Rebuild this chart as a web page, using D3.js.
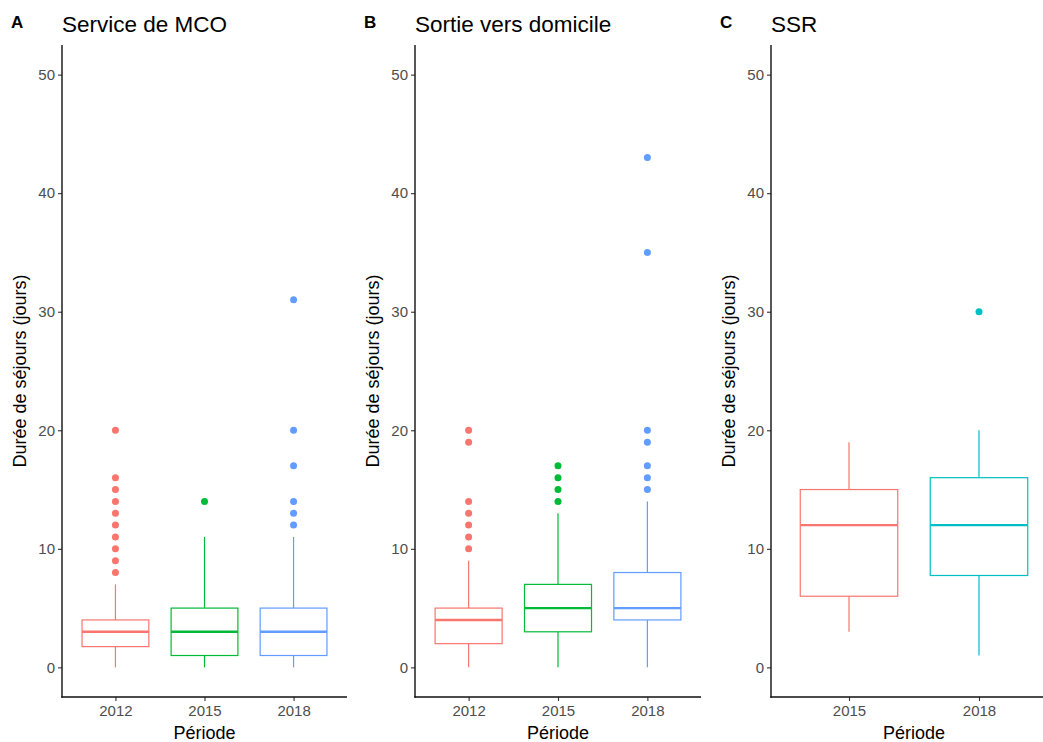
<!DOCTYPE html>
<html>
<head>
<meta charset="utf-8">
<script src="https://cdn.jsdelivr.net/npm/d3@7"></script>
<style>
  body { margin: 0; background: #fff; }
  svg { display: block; font-family: "Liberation Sans", Arial, sans-serif; }
</style>
</head>
<body>
<svg id="chart" width="1043" height="742"></svg>
<script>
// tick values on the y axis
const yTicks = [0, 10, 20, 30, 40, 50];

// panel A : Service de MCO
const mcoYears = ["2012", "2015", "2018"];
const mcoBoxes = [
  { min: 0, q1: 1.75, med: 3, q3: 4, max: 7, out: [8, 9, 10, 11, 12, 13, 14, 15, 16, 20] },
  { min: 0, q1: 1, med: 3, q3: 5, max: 11, out: [14] },
  { min: 0, q1: 1, med: 3, q3: 5, max: 11, out: [12, 13, 14, 17, 20, 31] }
];

// panel B : Sortie vers domicile
const domYears = ["2012", "2015", "2018"];
const domBoxes = [
  { min: 0, q1: 2, med: 4, q3: 5, max: 9, out: [10, 11, 12, 13, 14, 19, 20] },
  { min: 0, q1: 3, med: 5, q3: 7, max: 13, out: [14, 15, 16, 17] },
  { min: 0, q1: 4, med: 5, q3: 8, max: 14, out: [15, 16, 17, 19, 20, 35, 43] }
];

// panel C : SSR
const ssrYears = ["2015", "2018"];
const ssrBoxes = [
  { min: 3, q1: 6, med: 12, q3: 15, max: 19, out: [] },
  { min: 1, q1: 7.75, med: 12, q3: 16, max: 20, out: [30] }
];

const hue3 = ["#F8766D", "#00BA38", "#619CFF"];
const hue2 = ["#F8766D", "#00BFC4"];

const panels = [
  { letter: "A", title: "Service de MCO", years: mcoYears, boxes: mcoBoxes, colors: hue3, x0: 62, w: 285 },
  { letter: "B", title: "Sortie vers domicile", years: domYears, boxes: domBoxes, colors: hue3, x0: 415, w: 286 },
  { letter: "C", title: "SSR", years: ssrYears, boxes: ssrBoxes, colors: hue2, x0: 771, w: 286 }
];

const plotTop = 45, plotBottom = 697;
const svg = d3.select("#chart");

const y = d3.scaleLinear()
    .domain([-2.5, 52.5])
    .range([plotBottom, plotTop]);

panels.forEach(p => {
    const g = svg.append("g");

    // ggplot style discrete scale: 0.6 units expansion on each side
    const n = p.years.length;
    const step = p.w / (n - 1 + 1.2);
    const x = d3.scalePoint()
        .domain(p.years)
        .range([p.x0 + 0.6 * step, p.x0 + p.w - 0.6 * step]);
    const bw = step * 0.75;

    // y axis
    const yAxis = g.append("g")
        .attr("transform", `translate(${p.x0},0)`)
        .call(d3.axisLeft(y).tickValues(yTicks).tickSize(4).tickPadding(3).tickSizeOuter(0));
    yAxis.select(".domain").remove();
    yAxis.selectAll(".tick line").attr("stroke", "#333").attr("stroke-width", 1.1);
    yAxis.selectAll(".tick text").attr("fill", "#4D4D4D").style("font-size", "15px");

    // x axis
    const xAxis = g.append("g")
        .attr("transform", `translate(0,${plotBottom})`)
        .call(d3.axisBottom(x).tickSize(4).tickPadding(4).tickSizeOuter(0));
    xAxis.select(".domain").remove();
    xAxis.selectAll(".tick line").attr("stroke", "#333").attr("stroke-width", 1.1);
    xAxis.selectAll(".tick text").attr("fill", "#4D4D4D").style("font-size", "15px");

    // axis lines
    g.append("line")
        .attr("x1", p.x0).attr("x2", p.x0)
        .attr("y1", plotTop).attr("y2", plotBottom + 0.7)
        .attr("stroke", "#111").attr("stroke-width", 1.4);
    g.append("line")
        .attr("x1", p.x0 - 0.7).attr("x2", p.x0 + p.w)
        .attr("y1", plotBottom).attr("y2", plotBottom)
        .attr("stroke", "#111").attr("stroke-width", 1.4);

    // boxes
    p.boxes.forEach((b, i) => {
        const cx = x(p.years[i]);
        const col = p.colors[i];
        const bg = g.append("g");

        bg.append("line")
            .attr("x1", cx).attr("x2", cx)
            .attr("y1", y(b.q3)).attr("y2", y(b.max))
            .attr("stroke", col).attr("stroke-width", 1.2);
        bg.append("line")
            .attr("x1", cx).attr("x2", cx)
            .attr("y1", y(b.q1)).attr("y2", y(b.min))
            .attr("stroke", col).attr("stroke-width", 1.2);
        bg.append("rect")
            .attr("x", cx - bw / 2)
            .attr("y", y(b.q3))
            .attr("width", bw)
            .attr("height", y(b.q1) - y(b.q3))
            .attr("fill", "#fff")
            .attr("stroke", col).attr("stroke-width", 1.2);
        bg.append("line")
            .attr("x1", cx - bw / 2).attr("x2", cx + bw / 2)
            .attr("y1", y(b.med)).attr("y2", y(b.med))
            .attr("stroke", col).attr("stroke-width", 2.4);

        bg.selectAll("circle")
            .data(b.out)
            .join("circle")
            .attr("cx", cx)
            .attr("cy", d => y(d))
            .attr("r", 3.5)
            .attr("fill", col);
    });

    // panel letter and title
    g.append("text")
        .attr("x", p.x0 - 51)
        .attr("y", 28)
        .style("font-size", "17px")
        .style("font-weight", "bold")
        .attr("fill", "#000")
        .text(p.letter);
    g.append("text")
        .attr("x", p.x0)
        .attr("y", 32)
        .style("font-size", "22.5px")
        .attr("fill", "#000")
        .text(p.title);

    // axis titles
    g.append("text")
        .attr("transform", `translate(${p.x0 - 36},${(plotTop + plotBottom) / 2}) rotate(-90)`)
        .attr("text-anchor", "middle")
        .style("font-size", "18px")
        .attr("fill", "#000")
        .text("Durée de séjours (jours)");
    g.append("text")
        .attr("x", p.x0 + p.w / 2)
        .attr("y", 739)
        .attr("text-anchor", "middle")
        .style("font-size", "18px")
        .attr("fill", "#000")
        .text("Période");
});
</script>
</body>
</html>
